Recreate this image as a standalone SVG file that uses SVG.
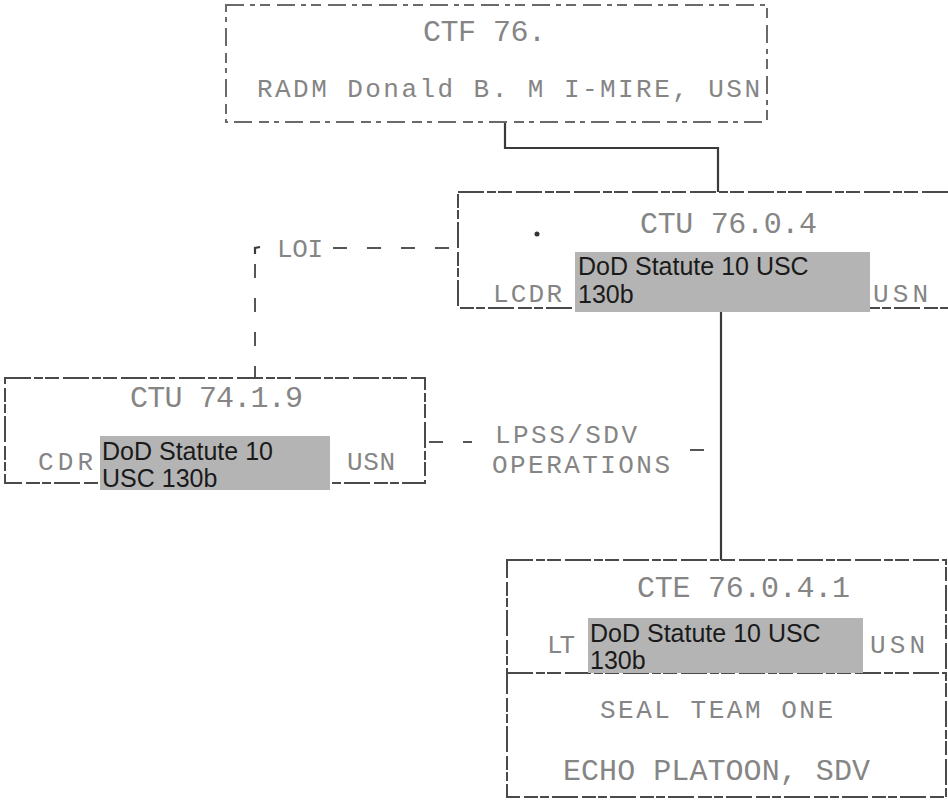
<svg xmlns="http://www.w3.org/2000/svg" width="948" height="803" viewBox="0 0 948 803">
<style>
.box{fill:none;stroke:#4a4a4a;stroke-width:2;stroke-dasharray:26 3 9 2 14 4}
.faint{stroke:#6a6a6a;stroke-dasharray:18 6 5 5 10 7}
.tw{font-family:"Liberation Mono","DejaVu Sans Mono",monospace;font-size:26px;fill:#858585}
.ttl{font-size:30px}
.red{fill:#b4b4b4}
.rt{font-family:"Liberation Sans",Arial,sans-serif;font-size:25px;fill:#1a1a1a}
.ln{fill:none;stroke:#3a3a3a;stroke-width:2.2}
.dash{fill:none;stroke:#555;stroke-width:2;stroke-dasharray:14 20}
</style>
<rect width="948" height="803" fill="#ffffff"/>
<g id="connectors">
<polyline class="ln" points="505,122 505,148 718,148 718,192"/>
<line class="ln" x1="721" y1="308" x2="721" y2="560"/>
<path class="dash" d="M333,248 L458,248"/>
<path class="ln" d="M255,254 L255,248 L260,247" stroke-width="1.5"/>
<path class="dash" d="M255,264 L255,378" stroke-dasharray="16 18"/>
<path class="dash" d="M429,442 L472,442" stroke-dasharray="8 12"/>
<path class="dash" d="M690,450 L721,450" stroke-dasharray="14 8"/>
</g>
<g id="ctf76">
<rect class="box faint" x="226" y="5" width="541" height="117"/>
<text class="tw ttl" x="423" y="41" textLength="123" lengthAdjust="spacing">CTF 76.</text>
<text class="tw" x="257" y="97" textLength="503" lengthAdjust="spacing" font-size="22">RADM Donald B. M I-MIRE, USN</text>
</g>
<g id="ctu7604">
<rect class="box" x="458" y="192" width="492" height="116"/>
<circle cx="537" cy="234" r="2.5" fill="#333"/>
<text class="tw ttl" x="640" y="233" textLength="177" lengthAdjust="spacing">CTU 76.0.4</text>
<text class="tw" x="493" y="302" textLength="69" lengthAdjust="spacing">LCDR</text>
<text class="tw" x="873" y="302" textLength="55" lengthAdjust="spacing">USN</text>
<rect class="red" x="575" y="252" width="295" height="60"/>
<text class="rt" x="578" y="275">DoD Statute 10 USC</text>
<text class="rt" x="578" y="303">130b</text>
</g>
<g id="loi">
<text class="tw" x="277" y="257" textLength="46" lengthAdjust="spacing">LOI</text>
</g>
<g id="ctu7419">
<rect class="box" x="5" y="378" width="420" height="105"/>
<text class="tw ttl" x="130" y="407" textLength="173" lengthAdjust="spacing">CTU 74.1.9</text>
<text class="tw" x="38" y="470" textLength="55" lengthAdjust="spacing">CDR</text>
<text class="tw" x="347" y="470" textLength="48" lengthAdjust="spacing" font-size="24">USN</text>
<rect class="red" x="100" y="436" width="230" height="54"/>
<text class="rt" x="102" y="460">DoD Statute 10</text>
<text class="rt" x="102" y="487">USC 130b</text>
</g>
<g id="lpss">
<text class="tw" x="495" y="443" textLength="142" lengthAdjust="spacing">LPSS/SDV</text>
<text class="tw" x="492" y="473" textLength="178" lengthAdjust="spacing">OPERATIONS</text>
</g>
<g id="cte76041">
<rect class="box" x="507" y="560" width="439" height="237"/>
<line class="box" x1="507" y1="673" x2="946" y2="673"/>
<text class="tw ttl" x="637" y="597" textLength="213" lengthAdjust="spacing">CTE 76.0.4.1</text>
<text class="tw" x="547" y="653" textLength="28" lengthAdjust="spacing" font-size="24">LT</text>
<text class="tw" x="870" y="653" textLength="55" lengthAdjust="spacing">USN</text>
<rect class="red" x="588" y="618" width="275" height="55"/>
<text class="rt" x="590" y="642">DoD Statute 10 USC</text>
<text class="rt" x="590" y="669">130b</text>
<text class="tw" x="600" y="718" textLength="233" lengthAdjust="spacing" font-size="27">SEAL TEAM ONE</text>
<text class="tw ttl" x="563" y="780" textLength="307" lengthAdjust="spacing">ECHO PLATOON, SDV</text>
</g>
</svg>
